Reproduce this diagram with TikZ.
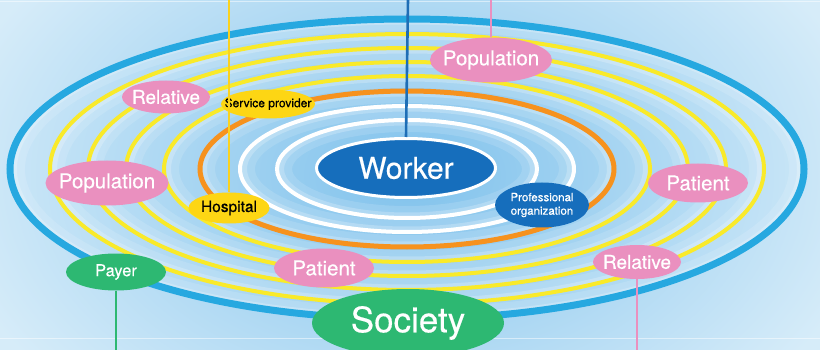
\documentclass[tikz,border=0pt]{standalone}
\usepackage{fontspec}
\setmainfont{TeX Gyre Heros}[FakeBold=0.4]
\newfontfamily\tagfont{TeX Gyre Heros}[FakeBold=0.4]
\usepackage{tikz}
\usetikzlibrary{shapes.geometric,positioning}
\definecolor{bgin}{RGB}{128,194,236}
\definecolor{bgout}{RGB}{214,236,249}
\definecolor{ringblue}{RGB}{38,168,224}
\definecolor{ringyellow}{RGB}{249,234,42}
\definecolor{ringorange}{RGB}{246,146,30}
\definecolor{workerblue}{RGB}{22,110,188}
\definecolor{tagpink}{RGB}{234,144,191}
\definecolor{tagyellow}{RGB}{253,214,20}
\definecolor{taggreen}{RGB}{45,184,114}
\definecolor{lineblue}{RGB}{30,110,182}
\definecolor{lineyellow}{RGB}{250,210,30}

\begin{document}
\begin{tikzpicture}[x=1pt,y=-1pt,
  tag/.style={ellipse,inner xsep=-30pt,inner ysep=-8pt,text=white,align=center},
  pinktag/.style={tag,fill=tagpink,minimum width=#1},
  yellowtag/.style={tag,fill=tagyellow,text=black},
  greentag/.style={tag,fill=taggreen},
  link/.style={line width=2.6pt}]
\useasboundingbox (0,0) rectangle (820,350);
\clip (0,0) rectangle (820,350);

%background
\shade[inner color=bgin,outer color=bgout] (-60,-140) rectangle (880,490);
\draw[white,opacity=0.5,line width=0.8pt] (0,1.5) -- (820,1.5) (0,338) -- (820,338);

%rings
\coordinate (c) at (407,169);
\foreach \rx/\ry/\col/\w in {397/150/ringblue/7, 357/135/ringyellow/4, 319/121/ringyellow/4,
  281/107/ringyellow/4, 243/93/ringyellow/4, 207/78/ringorange/5, 167/63/white/4, 130/49/white/4}
{
  \draw[white,opacity=0.13,line width=14pt] (c) ellipse [x radius=\rx-8, y radius=\ry-5];
  \draw[white,opacity=0.22,line width=6pt] (c) ellipse [x radius=\rx-4, y radius=\ry-2.5];
  \draw[\col,line width=\w pt] (c) ellipse [x radius=\rx, y radius=\ry];
}

%centre
\node[tag,fill=workerblue,draw=white,line width=3pt,minimum width=179pt,minimum height=59pt,
  font=\tagfont\fontsize{30}{36}\selectfont] (worker) at (406,168) {Worker};

%tags
\node[pinktag=122pt,minimum height=45pt,font=\tagfont\fontsize{20.5}{24}\selectfont] (popTop) at (491,60) {Population};
\node[pinktag=88pt,minimum height=33pt,font=\tagfont\fontsize{19}{23}\selectfont] (relTop) at (166,97) {Relative};
\node[yellowtag,minimum width=94pt,minimum height=29pt,font=\tagfont\fontsize{12}{14}\selectfont] (service) at (268,104) {Service provider};
\node[pinktag=123pt,minimum height=45pt,font=\tagfont\fontsize{20.5}{24}\selectfont] (popLeft) at (107,183) {Population};
\node[yellowtag,minimum width=81pt,minimum height=31pt,font=\tagfont\fontsize{15.5}{18}\selectfont] (hospital) at (229,208) {Hospital};
\node[tag,fill=workerblue,minimum width=94pt,minimum height=45pt,font=\tagfont\fontsize{11.5}{13.5}\selectfont] (profOrg) at (542,205) {Professional\\organization};
\node[pinktag=100pt,minimum height=39pt,font=\tagfont\fontsize{20.5}{24}\selectfont] (patRight) at (698,183) {Patient};
\node[pinktag=100pt,minimum height=39pt,font=\tagfont\fontsize{20.5}{24}\selectfont] (patBottom) at (324,268) {Patient};
\node[greentag,minimum width=100pt,minimum height=37pt,font=\tagfont\fontsize{16.5}{19}\selectfont] (payer) at (116,272) {Payer};
\node[pinktag=88pt,minimum height=34pt,font=\tagfont\fontsize{19}{23}\selectfont] (relBottom) at (637,262) {Relative};
\node[greentag,minimum width=192pt,minimum height=68pt,font=\tagfont\fontsize{35}{41}\selectfont] (society) at (408,323) {Society};

%lines to the edge
\coordinate (topY) at (229,0);
\coordinate (topB) at (408,0);
\coordinate (topP) at (491,0);
\coordinate (botG) at (116,350);
\coordinate (botP) at (637,350);
\draw[link,lineyellow] (topY) -- (hospital.north);
\draw[link,lineblue] (topB) -- (worker.north);
\draw[link,tagpink] (topP) -- (popTop.north);
\draw[link,taggreen] (payer.south) -- (botG);
\draw[link,tagpink] (relBottom.south) -- (botP);
\end{tikzpicture}
\end{document}
